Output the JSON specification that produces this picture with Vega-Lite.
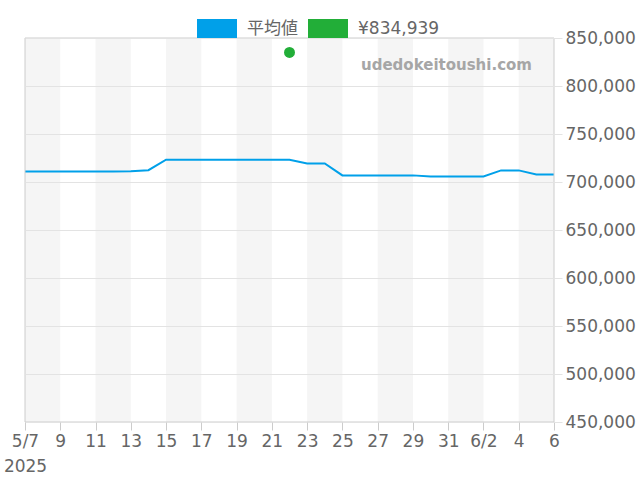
{
  "$schema": "https://vega.github.io/schema/vega-lite/v6.json",
  "width": 529,
  "height": 384,
  "autosize": "none",
  "padding": {"left": 25, "top": 38, "right": 86, "bottom": 58},
  "background": "white",
  "config": {
    "font": "DejaVu Sans, Noto Sans CJK JP",
    "view": {"stroke": null},
    "axisX": {"labelOverlap": false}
  },
  "datasets": {
    "avg": [
      {"date": "2025-05-07T00:00", "price": 711000},
      {"date": "2025-05-08T00:00", "price": 711000},
      {"date": "2025-05-09T00:00", "price": 711000},
      {"date": "2025-05-10T00:00", "price": 711000},
      {"date": "2025-05-11T00:00", "price": 711000},
      {"date": "2025-05-12T00:00", "price": 711000},
      {"date": "2025-05-13T00:00", "price": 711200},
      {"date": "2025-05-14T00:00", "price": 712300},
      {"date": "2025-05-15T00:00", "price": 723200},
      {"date": "2025-05-16T00:00", "price": 723200},
      {"date": "2025-05-17T00:00", "price": 723200},
      {"date": "2025-05-18T00:00", "price": 723200},
      {"date": "2025-05-19T00:00", "price": 723200},
      {"date": "2025-05-20T00:00", "price": 723200},
      {"date": "2025-05-21T00:00", "price": 723200},
      {"date": "2025-05-22T00:00", "price": 723200},
      {"date": "2025-05-23T00:00", "price": 719400},
      {"date": "2025-05-24T00:00", "price": 719400},
      {"date": "2025-05-25T00:00", "price": 706900},
      {"date": "2025-05-26T00:00", "price": 706900},
      {"date": "2025-05-27T00:00", "price": 706900},
      {"date": "2025-05-28T00:00", "price": 706900},
      {"date": "2025-05-29T00:00", "price": 706900},
      {"date": "2025-05-30T00:00", "price": 705800},
      {"date": "2025-05-31T00:00", "price": 705800},
      {"date": "2025-06-01T00:00", "price": 705800},
      {"date": "2025-06-02T00:00", "price": 705800},
      {"date": "2025-06-03T00:00", "price": 712100},
      {"date": "2025-06-04T00:00", "price": 712100},
      {"date": "2025-06-05T00:00", "price": 707900},
      {"date": "2025-06-06T00:00", "price": 707900}
    ],
    "sale": [
      {"date": "2025-05-22T00:00", "price": 834939}
    ],
    "bands": [
      {"date": "2025-05-07T00:00", "end": "2025-05-09T00:00"},
      {"date": "2025-05-11T00:00", "end": "2025-05-13T00:00"},
      {"date": "2025-05-15T00:00", "end": "2025-05-17T00:00"},
      {"date": "2025-05-19T00:00", "end": "2025-05-21T00:00"},
      {"date": "2025-05-23T00:00", "end": "2025-05-25T00:00"},
      {"date": "2025-05-27T00:00", "end": "2025-05-29T00:00"},
      {"date": "2025-05-31T00:00", "end": "2025-06-02T00:00"},
      {"date": "2025-06-04T00:00", "end": "2025-06-06T00:00"}
    ],
    "frame": [
      {"date": "2025-05-07T00:00", "end": "2025-06-06T00:00", "low": 450000, "high": 850000}
    ],
    "mark": [
      {"date": "2025-06-04T18:00", "price": 821900, "text": "udedokeitoushi.com"}
    ]
  },
  "encoding": {
    "x": {
      "field": "date",
      "type": "temporal",
      "scale": {
        "domain": [
          {"year": 2025, "month": 5, "date": 7},
          {"year": 2025, "month": 6, "date": 6}
        ],
        "nice": false
      },
      "axis": {
        "title": null,
        "grid": false,
        "domain": false,
        "zindex": 1,
        "values": [
          {"year": 2025, "month": 5, "date": 7},
          {"year": 2025, "month": 5, "date": 9},
          {"year": 2025, "month": 5, "date": 11},
          {"year": 2025, "month": 5, "date": 13},
          {"year": 2025, "month": 5, "date": 15},
          {"year": 2025, "month": 5, "date": 17},
          {"year": 2025, "month": 5, "date": 19},
          {"year": 2025, "month": 5, "date": 21},
          {"year": 2025, "month": 5, "date": 23},
          {"year": 2025, "month": 5, "date": 25},
          {"year": 2025, "month": 5, "date": 27},
          {"year": 2025, "month": 5, "date": 29},
          {"year": 2025, "month": 5, "date": 31},
          {"year": 2025, "month": 6, "date": 2},
          {"year": 2025, "month": 6, "date": 4},
          {"year": 2025, "month": 6, "date": 6}
        ],
        "labelExpr": "timeFormat(datum.value, '%m%d') == '0507' ? [timeFormat(datum.value, '%-m/%-d'), timeFormat(datum.value, '%Y')] : (date(datum.value) <= 2 ? timeFormat(datum.value, '%-m/%-d') : timeFormat(datum.value, '%-d'))",
        "labelFontSize": 17,
        "labelColor": "#666666",
        "labelLineHeight": 25,
        "labelPadding": 3,
        "labelOverlap": false,
        "labelFlush": false,
        "labelBound": false,
        "tickSize": 8,
        "tickColor": "#cccccc"
      }
    }
  },
  "layer": [
    {
      "data": {"name": "bands"},
      "mark": {"type": "rect", "color": "#f5f5f5"},
      "encoding": {
        "x2": {"field": "end"},
        "y": {"value": 0},
        "y2": {"value": 384}
      }
    },
    {
      "data": {"name": "sale"},
      "mark": {"type": "circle", "size": 120, "opacity": 1},
      "encoding": {
        "y": {"field": "price", "type": "quantitative"},
        "color": {"datum": "¥834,939", "type": "nominal"}
      }
    },
    {
      "data": {"name": "avg"},
      "mark": {"type": "line", "strokeWidth": 2},
      "encoding": {
        "y": {
          "field": "price",
          "type": "quantitative",
          "scale": {"domain": [450000, 850000], "nice": false, "zero": false},
          "axis": {
            "orient": "right",
            "title": null,
            "values": [450000, 500000, 550000, 600000, 650000, 700000, 750000, 800000, 850000],
            "format": ",d",
            "domain": false,
            "grid": true,
            "zindex": 1,
            "gridColor": "#e3e3e3",
            "tickColor": "#e3e3e3",
            "tickSize": 8,
            "labelFontSize": 17,
            "labelColor": "#666666",
            "labelPadding": 3
          }
        },
        "color": {
          "datum": "平均値",
          "type": "nominal",
          "scale": {
            "domain": ["平均値", "¥834,939"],
            "range": ["#00a0e9", "#22ae38"]
          },
          "legend": {
            "title": null,
            "orient": "none",
            "legendX": 172,
            "legendY": -29,
            "direction": "horizontal",
            "symbolType": "M-1,-0.5H1V0.5H-1Z",
            "symbolSize": 1600,
            "symbolStrokeWidth": 0,
            "symbolOpacity": 1,
            "labelFontSize": 17,
            "labelColor": "#666666",
            "labelOffset": 10,
            "columnPadding": 10
          }
        }
      }
    },
    {
      "data": {"name": "mark"},
      "mark": {"type": "text", "align": "right", "baseline": "middle", "fontSize": 15, "fontWeight": "bold", "color": "#a6a6a6"},
      "encoding": {
        "y": {"field": "price", "type": "quantitative"},
        "text": {"field": "text"}
      }
    },
    {
      "data": {"name": "frame"},
      "mark": {"type": "rect", "fill": null, "stroke": "#cccccc", "strokeWidth": 1},
      "encoding": {
        "x2": {"field": "end"},
        "y": {"field": "low", "type": "quantitative"},
        "y2": {"field": "high"}
      }
    }
  ]
}
